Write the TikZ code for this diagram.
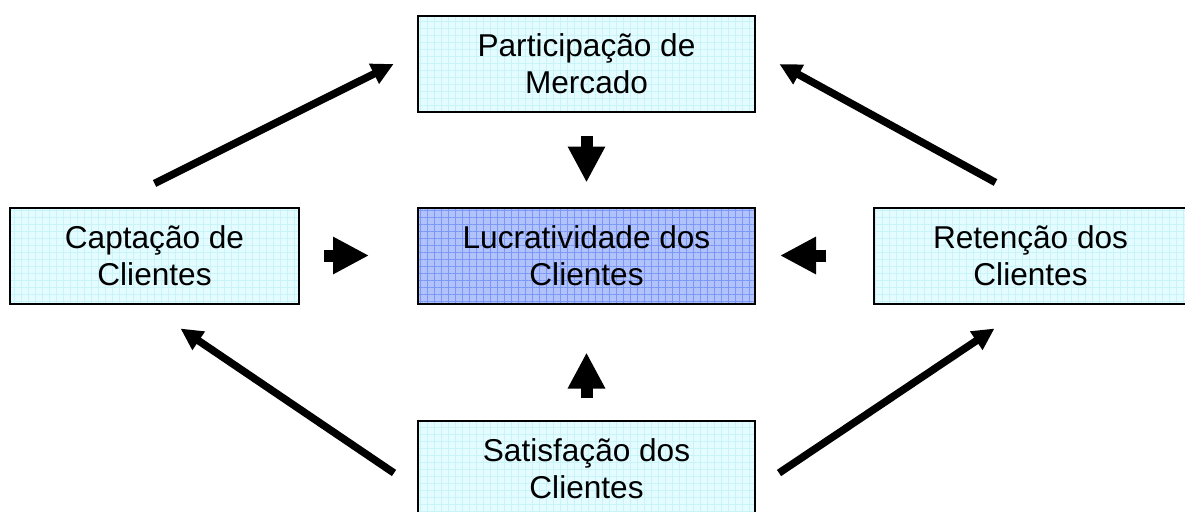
\documentclass[tikz,border=0pt]{standalone}
\usepackage{fontspec}
\setmainfont{Liberation Sans}
\usepackage{tikz}
\usepackage{xcolor}
\usetikzlibrary{arrows.meta,patterns.meta}
\definecolor{cell-cyan}{HTML}{E4FCFF}
\definecolor{cell-cyan-grid}{HTML}{C8F4F8}
\definecolor{lead-blue}{HTML}{B2C2FA}
\definecolor{lead-blue-grid}{HTML}{7C98F6}
\tikzset{
    cell-box/.style = {draw=black, line width=2pt, rectangle, inner sep=0pt, align=center, minimum width=337pt, minimum height=96pt, preaction={fill=cell-cyan}, pattern={Hatch[angle=0,distance=7pt,line width=0.7pt]}, pattern color=cell-cyan-grid, font=\fontsize{31.6}{37}\selectfont},
    lead-box/.style = {cell-box, preaction={fill=lead-blue}, pattern color=lead-blue-grid},
    fat-arrow/.style = {line width=12pt, -{Triangle[width=35pt,length=36pt]}},
    long-arrow/.style = {line width=7.5pt, -{Triangle[width=21pt,length=22pt]}},
}

\begin{document}
\begin{tikzpicture}[x=1pt, y=-1pt]
\useasboundingbox (0,0) rectangle (1185,511);
\clip (0,0) rectangle (1185,511);
\node[cell-box] (market) at (586.5,64) {Participação de\\Mercado};
\node[cell-box, minimum width=289pt] (capture) at (154.5,255.5) {Captação de\\Clientes};
\node[lead-box] (profit) at (586.5,255.5) {Lucratividade dos\\Clientes};
\node[cell-box, minimum width=313pt] (retention) at (1030.5,255.5) {Retenção dos\\Clientes};
\node[cell-box] (satisfaction) at (586.5,469) {Satisfação dos\\Clientes};

% short arrows into the centre
\draw[fat-arrow, shorten <=24pt, shorten >=24pt] (market) -- (profit);
\draw[fat-arrow, shorten <=22pt, shorten >=48pt] (satisfaction) -- (profit);
\draw[fat-arrow, shorten <=24pt, shorten >=48pt] (capture) -- (profit);
\draw[fat-arrow, shorten <=47pt, shorten >=24pt] (retention) -- (profit);

% long arrows round the outside
\draw[long-arrow] ([yshift=23pt]capture.north) -- ([xshift=-24pt]market.west);
\draw[long-arrow] ([xshift=-35pt,yshift=24pt]retention.north) -- ([xshift=24pt]market.east);
\draw[long-arrow] ([xshift=-23pt,yshift=-4pt]satisfaction.west) -- ([xshift=26pt,yshift=-24pt]capture.south);
\draw[long-arrow] ([xshift=23pt,yshift=-4pt]satisfaction.east) -- ([xshift=-36pt,yshift=-24pt]retention.south);
\end{tikzpicture}
\end{document}
